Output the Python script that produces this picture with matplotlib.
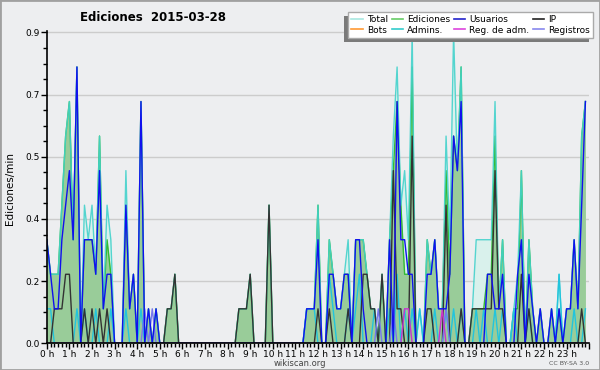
import numpy as np
import matplotlib
matplotlib.use('Agg')
from matplotlib import pyplot as plt
from matplotlib.lines import Line2D
from matplotlib.patches import Rectangle
from matplotlib.transforms import IdentityTransform
from matplotlib.ticker import MultipleLocator, FormatStrFormatter

# Edits counted per 10-minute bin, 2015-03-28 (144 bins, 2 hours per row)
total = [3, 2, 2, 2, 4, 6, 7, 3, 8, 0, 4, 3,
         4, 2, 6, 1, 4, 3, 0, 0, 0, 5, 1, 2,
         0, 7, 0, 1, 0, 1, 0, 0, 1, 1, 2, 0,
         0, 0, 0, 0, 0, 0, 0, 0, 0, 0, 0, 0,
         0, 0, 0, 1, 1, 1, 2, 0, 0, 0, 0, 4,
         0, 0, 0, 0, 0, 0, 0, 0, 0, 1, 1, 1,
         4, 0, 0, 3, 2, 1, 1, 2, 3, 0, 3, 3,
         3, 2, 1, 1, 0, 2, 0, 3, 6, 8, 4, 5,
         3, 9, 0, 1, 0, 3, 2, 3, 1, 1, 6, 3,
         9, 5, 8, 0, 0, 1, 3, 3, 3, 3, 3, 7,
         1, 3, 0, 0, 1, 2, 5, 0, 3, 1, 0, 1,
         0, 0, 1, 0, 2, 0, 1, 1, 3, 1, 6, 7]
edits = [3, 2, 2, 2, 4, 6, 7, 3, 8, 0, 3, 3,
         3, 2, 6, 1, 3, 2, 0, 0, 0, 4, 1, 2,
         0, 7, 0, 1, 0, 1, 0, 0, 1, 1, 2, 0,
         0, 0, 0, 0, 0, 0, 0, 0, 0, 0, 0, 0,
         0, 0, 0, 1, 1, 1, 2, 0, 0, 0, 0, 4,
         0, 0, 0, 0, 0, 0, 0, 0, 0, 1, 1, 1,
         4, 0, 0, 3, 2, 1, 1, 2, 2, 0, 3, 3,
         3, 2, 1, 1, 0, 2, 0, 3, 5, 7, 4, 2,
         2, 8, 0, 0, 0, 3, 2, 3, 1, 1, 5, 2,
         6, 5, 8, 0, 0, 1, 1, 1, 1, 2, 2, 6,
         1, 3, 0, 0, 1, 1, 5, 0, 3, 1, 0, 1,
         0, 0, 1, 0, 1, 0, 1, 1, 3, 1, 6, 7]
users = [3, 2, 1, 1, 3, 4, 5, 3, 8, 0, 3, 3,
         3, 2, 5, 1, 2, 2, 0, 0, 0, 4, 1, 2,
         0, 7, 0, 1, 0, 1, 0, 0, 0, 0, 0, 0,
         0, 0, 0, 0, 0, 0, 0, 0, 0, 0, 0, 0,
         0, 0, 0, 0, 0, 0, 0, 0, 0, 0, 0, 0,
         0, 0, 0, 0, 0, 0, 0, 0, 0, 1, 1, 1,
         3, 0, 0, 2, 2, 1, 1, 2, 2, 0, 3, 3,
         1, 0, 0, 0, 0, 0, 0, 3, 0, 7, 3, 3,
         2, 2, 0, 0, 0, 2, 2, 3, 1, 1, 1, 2,
         6, 5, 7, 0, 0, 0, 0, 0, 0, 2, 2, 1,
         1, 2, 0, 0, 0, 2, 3, 0, 2, 1, 0, 1,
         0, 0, 1, 0, 1, 0, 1, 1, 3, 1, 4, 7]
ip = [0, 0, 1, 1, 1, 2, 2, 0, 0, 0, 1, 0,
      1, 0, 1, 0, 1, 0, 0, 0, 0, 0, 0, 0,
      0, 0, 0, 0, 0, 0, 0, 0, 1, 1, 2, 0,
      0, 0, 0, 0, 0, 0, 0, 0, 0, 0, 0, 0,
      0, 0, 0, 1, 1, 1, 2, 0, 0, 0, 0, 4,
      0, 0, 0, 0, 0, 0, 0, 0, 0, 0, 0, 0,
      1, 0, 0, 1, 0, 0, 0, 0, 1, 0, 0, 0,
      2, 2, 1, 1, 0, 2, 0, 0, 5, 1, 1, 0,
      0, 6, 0, 0, 0, 1, 1, 0, 0, 0, 4, 0,
      0, 0, 1, 0, 0, 1, 1, 1, 1, 1, 1, 5,
      1, 1, 0, 0, 0, 0, 2, 0, 1, 0, 0, 0,
      0, 0, 0, 0, 0, 0, 0, 0, 0, 0, 1, 0]
admins = [1, 1, 0, 0, 0, 0, 0, 0, 1, 0, 1, 0,
          0, 1, 0, 0, 0, 1, 0, 0, 0, 1, 0, 0,
          0, 1, 0, 0, 0, 0, 0, 0, 0, 0, 0, 0,
          0, 0, 0, 0, 0, 0, 0, 0, 0, 0, 0, 0,
          0, 0, 0, 0, 0, 0, 0, 0, 0, 0, 0, 0,
          0, 0, 0, 0, 0, 0, 0, 0, 0, 1, 1, 1,
          0, 0, 0, 2, 1, 0, 0, 0, 1, 0, 1, 2,
          0, 0, 0, 1, 0, 0, 0, 1, 0, 2, 0, 1,
          0, 1, 0, 1, 0, 0, 0, 1, 0, 0, 1, 0,
          1, 0, 1, 0, 0, 0, 1, 0, 1, 0, 0, 1,
          0, 1, 0, 0, 1, 0, 0, 0, 1, 0, 0, 0,
          0, 0, 0, 0, 2, 0, 0, 0, 1, 0, 0, 1]
bots = [0] * 144
reg_adm = [0] * 95 + [1, 1] + [0] * 8 + [1] + [0] * 38
registros = ([0] * 26 + [1, 0, 1] + [0] * 59 + [1, 0, 0, 0, 1]
             + [0] * 13 + [1] + [0] * 37)

hour_labels = [f'{h} h' for h in range(24)]

bg = '#edeef0'
fig = plt.figure(figsize=(6, 3.7), dpi=100, facecolor=bg)
ax = fig.add_axes([0.078, 0.072, 0.904, 0.845], facecolor=bg)

t = np.arange(len(total)) / 6
per_min = lambda a: np.array(a) / 10.0

ax.fill_between(t, per_min(total), color='#d9f1ec', lw=0, zorder=1)
ax.fill_between(t, per_min(edits), color='#99cc99', lw=0, zorder=2)
ax.plot(t, per_min(bots), color='#ff9933', lw=1, zorder=1.5)
ax.plot(t, per_min(edits), color='#33bb33', lw=1, zorder=3)
ax.plot(t, per_min(total), color='#44d2cc', lw=1, alpha=0.9, zorder=3.1)
ax.plot(t, per_min(admins), color='#22c4dd', lw=1, zorder=3.2)
ax.plot(t, per_min(ip), color='#333333', lw=1, zorder=3.3)
ax.plot(t, per_min(registros), color='#7777ee', lw=1, zorder=3.4)
ax.plot(t, per_min(reg_adm), color='#cc33cc', lw=1, zorder=3.5)
ax.plot(t, per_min(users), color='#1010ee', lw=1, zorder=3.6)

ax.set_xlim(0, 24)
ax.set_ylim(0, 0.905)
ax.set_xticks(range(25))
ax.set_xticklabels(hour_labels + [''])
ax.xaxis.set_minor_locator(MultipleLocator(1 / 6))
ax.yaxis.set_major_locator(MultipleLocator(0.18))
ax.yaxis.set_major_formatter(FormatStrFormatter('%.1f'))
ax.yaxis.set_minor_locator(MultipleLocator(0.045))
ax.tick_params(which='major', direction='out', length=4, width=1, labelsize=6.5, pad=1)
ax.tick_params(axis='x', which='major', pad=0.5)
ax.tick_params(which='minor', direction='out', length=3, width=1)
ax.yaxis.grid(True, color='#cccccc', lw=1)
ax.set_axisbelow(True)
for side in ['top', 'right']:
    ax.spines[side].set_visible(False)
for side in ['left', 'bottom']:
    ax.spines[side].set_linewidth(1.2)
    ax.spines[side].set_zorder(5)

fig.text(0.255, 0.952, 'Ediciones  2015-03-28', fontsize=8.5, fontweight='bold',
         ha='center', va='center')
fig.text(0.016, 0.49, 'Ediciones/min', rotation=90, fontsize=7.5, ha='center', va='center')
fig.text(0.5, 0.017, 'wikiscan.org', fontsize=6, ha='center', va='center', color='#444444')
fig.text(0.982, 0.017, 'CC BY-SA 3.0', fontsize=4.5, ha='right', va='center', color='#555555')

handles = [
    Line2D([], [], color='#a8e8e0', lw=1.2, label='Total'),
    Line2D([], [], color='#ff9933', lw=1.2, label='Bots'),
    Line2D([], [], color='#66cc66', lw=1.2, label='Ediciones'),
    Line2D([], [], color='#33cccc', lw=1.2, label='Admins.'),
    Line2D([], [], color='#2222cc', lw=1.2, label='Usuarios'),
    Line2D([], [], color='#dd44dd', lw=1.2, label='Reg. de adm.'),
    Line2D([], [], color='#222222', lw=1.2, label='IP'),
    Line2D([], [], color='#8888ee', lw=1.2, label='Registros'),
]
leg = ax.legend(handles=handles, ncol=4, loc='upper right',
                bbox_to_anchor=(593 / 600, 1 - 12 / 370), bbox_transform=fig.transFigure,
                fontsize=6.5, handlelength=1.3, handletextpad=0.4, columnspacing=0.4,
                labelspacing=0.15, borderpad=0.35, borderaxespad=0, fancybox=False,
                framealpha=1, edgecolor='#aaaaaa')
leg.set_zorder(10)

# drop shadow to the lower left of the legend box
fig.canvas.draw()
bb = leg.get_window_extent()
ax.add_patch(Rectangle((bb.x0 - 4, bb.y0 - 4), bb.width, bb.height,
                       transform=IdentityTransform(), facecolor='#7a7a7a',
                       edgecolor='none', zorder=9, clip_on=False))

fig.add_artist(Rectangle((0, 0), 1, 1, transform=fig.transFigure, fill=False,
                         edgecolor='#a0a0a0', lw=2))

fig.savefig('out.png', dpi=100, facecolor=bg)
